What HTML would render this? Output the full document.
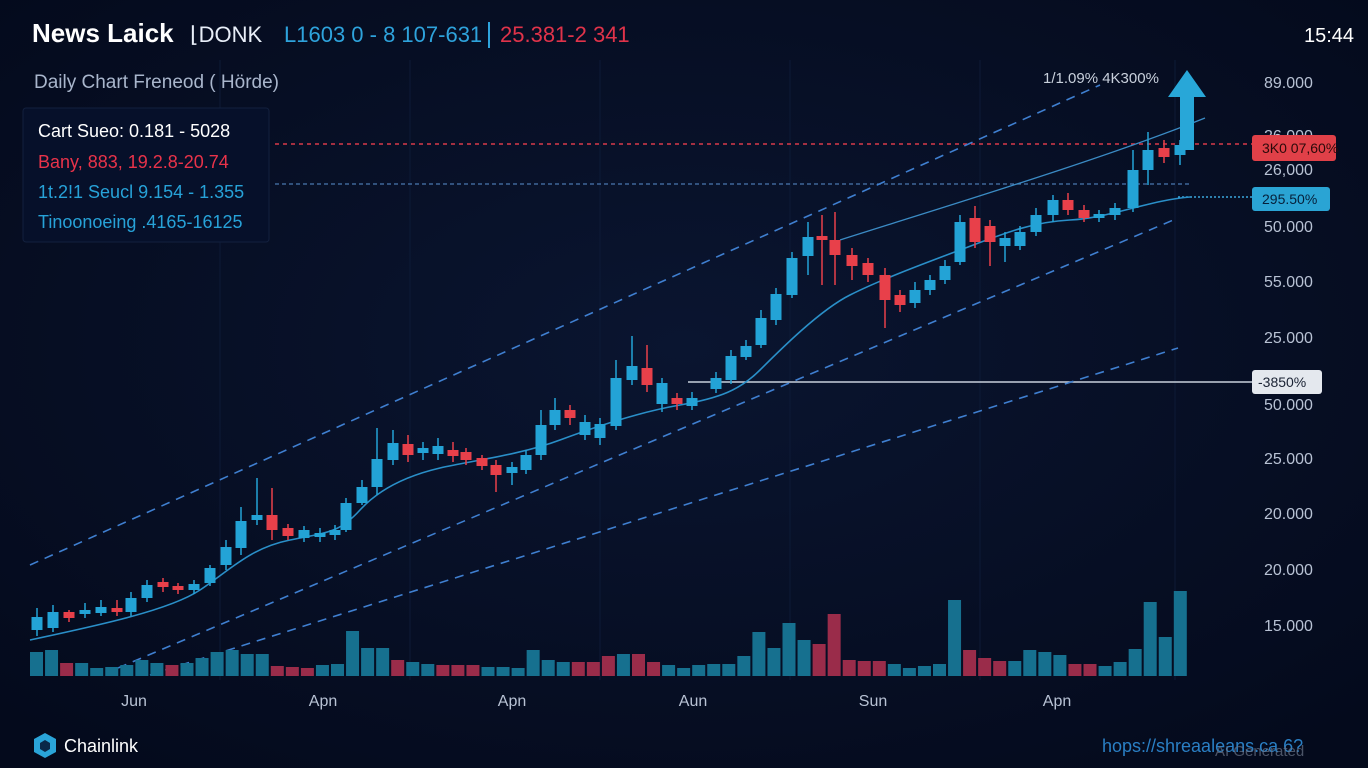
<!DOCTYPE html>
<html><head><meta charset="utf-8"><style>
html,body{margin:0;padding:0;background:#050c20;width:1368px;height:768px;overflow:hidden;font-family:"Liberation Sans",sans-serif}
svg text{font-family:"Liberation Sans",sans-serif}
</style></head><body>
<svg width="1368" height="768" viewBox="0 0 1368 768" xmlns="http://www.w3.org/2000/svg">
<defs><radialGradient id="bg" cx="50%" cy="45%" r="70%"><stop offset="0" stop-color="#0a1530"/><stop offset="1" stop-color="#040a1c"/></radialGradient></defs>
<rect width="1368" height="768" fill="url(#bg)"/>
<g stroke="#0d1a36" stroke-width="1">
<line x1="220" y1="60" x2="220" y2="680"/><line x1="410" y1="60" x2="410" y2="680"/><line x1="600" y1="60" x2="600" y2="680"/><line x1="790" y1="60" x2="790" y2="680"/><line x1="980" y1="60" x2="980" y2="680"/><line x1="1175" y1="60" x2="1175" y2="680"/>
</g>
<text x="32" y="42" fill="#ffffff" font-size="26" font-weight="bold">News Laick</text>
<text x="190" y="42" fill="#e8eef8" font-size="22">⌊DONK</text>
<text x="284" y="42" fill="#2ea3dc" font-size="22">L1603  0 - 8 107-631</text>
<line x1="489" y1="22" x2="489" y2="48" stroke="#2ea3dc" stroke-width="2"/>
<text x="500" y="42" fill="#e0334a" font-size="22">25.381-2 341</text>
<text x="1304" y="42" fill="#ffffff" font-size="20">15:44</text>
<text x="34" y="88" fill="#a9b6cc" font-size="19">Daily Chart  Freneod ( Hörde)</text>
<rect x="23" y="108" width="246" height="134" fill="#06102a" stroke="#13203e" rx="3"/>
<text x="38" y="137" fill="#ffffff" font-size="18">Cart Sueo: 0.181 - 5028</text>
<text x="38" y="168" fill="#e8334a" font-size="18">Bany, 883, 19.2.8-20.74</text>
<text x="38" y="198" fill="#27a2d8" font-size="18">1t.2!1 Seucl  9.154 - 1.355</text>
<text x="38" y="228" fill="#27a2d8" font-size="18">Tinoonoeing .4165-16125</text>
<line x1="275" y1="144" x2="1252" y2="144" stroke="#d83a4a" stroke-width="1.5" stroke-dasharray="4,4"/>
<line x1="275" y1="184" x2="1190" y2="184" stroke="#4a78b0" stroke-width="1.2" stroke-dasharray="4,3"/>
<line x1="1178" y1="197" x2="1252" y2="197" stroke="#3aa6dc" stroke-width="1.5" stroke-dasharray="2,2"/>
<line x1="688" y1="382" x2="1252" y2="382" stroke="#c8d0dc" stroke-width="1.5"/>
<g stroke="#3f7fd0" stroke-width="1.6" stroke-dasharray="9,7" fill="none">
<line x1="30" y1="565" x2="1100" y2="85"/>
<line x1="118" y1="668" x2="1178" y2="218"/>
<line x1="150" y1="675" x2="1178" y2="348"/>
</g>
<path d="M30,640 C100,625 170,610 200,590 S250,548 290,540 S340,532 360,510 S410,475 440,468 S520,455 560,440 S640,412 680,405 S740,390 760,370 S820,310 850,295 S920,265 960,250 S1030,222 1070,220 S1150,200 1190,197" stroke="#2a8fc8" stroke-width="1.6" fill="none"/>
<path d="M840,240 C950,205 1100,160 1205,118" stroke="#3b8bc4" stroke-width="1.3" fill="none"/>
<g id="c"></g>
<g id="v"></g>
<polygon points="1187,70 1168,97 1180,97 1180,150 1194,150 1194,97 1206,97" fill="#28a7d8"/>
<text x="1043" y="83" fill="#c8d0dc" font-size="15">1/1.09% 4K300%</text>
<g fill="#b8c2d4" font-size="16">
<text x="1264" y="88">89.000</text><text x="1264" y="141">26,000</text><text x="1264" y="175">26,000</text>
<text x="1264" y="232">50.000</text><text x="1264" y="287">55.000</text><text x="1264" y="343">25.000</text>
<text x="1264" y="410">50.000</text><text x="1264" y="464">25.000</text><text x="1264" y="519">20.000</text>
<text x="1264" y="575">20.000</text><text x="1264" y="631">15.000</text>
</g>
<rect x="1252" y="135" width="84" height="26" rx="3" fill="#e04048"/><text x="1262" y="153" fill="#2a0a0a" font-size="14">3K0 07,60%</text>
<rect x="1252" y="187" width="78" height="24" rx="3" fill="#2aa4d4"/><text x="1262" y="204" fill="#06203a" font-size="14">295.50%</text>
<rect x="1252" y="370" width="70" height="24" rx="3" fill="#e4e8ee"/><text x="1258" y="387" fill="#1a2233" font-size="14">-3850%</text>
<g fill="#b8c2d4" font-size="16" text-anchor="middle">
<text x="134" y="706">Jun</text><text x="323" y="706">Apn</text><text x="512" y="706">Apn</text><text x="693" y="706">Aun</text><text x="873" y="706">Sun</text><text x="1057" y="706">Apn</text>
</g>
<polygon points="45,733 56,739 56,752 45,758 34,752 34,739" fill="#2aa4d8"/>
<polygon points="45,740 50,743 50,749 45,752 40,749 40,743" fill="#0a2848"/>
<text x="64" y="752" fill="#ffffff" font-size="18">Chainlink</text>
<text x="1102" y="752" fill="#2a7fc4" font-size="18">hops://shreaaleans.ca 6?</text>
<text x="1215" y="756" fill="#6a7488" font-size="15" opacity="0.7">AI Generated</text>
</svg>
<script>
var ns="http://www.w3.org/2000/svg";
var C=[[37,617,630,608,636,'b'],[53,612,628,605,632,'b'],[69,612,618,610,622,'r'],[85,610,614,603,618,'b'],[101,607,613,600,616,'b'],[117,608,612,600,616,'r'],[131,598,612,592,616,'b'],[147,585,598,580,602,'b'],[163,582,587,578,592,'r'],[178,586,590,583,594,'r'],[194,584,590,580,594,'b'],[210,568,583,565,586,'b'],[226,547,565,540,570,'b'],[241,521,548,507,555,'b'],[257,515,520,478,525,'b'],[272,515,530,488,540,'r'],[288,528,536,524,540,'r'],[304,530,538,526,542,'b'],[320,533,537,528,542,'b'],[335,530,535,525,540,'b'],[346,503,530,498,532,'b'],[362,487,503,480,505,'b'],[377,459,487,428,495,'b'],[393,443,460,430,465,'b'],[408,444,455,435,462,'r'],[423,448,453,442,460,'b'],[438,446,454,438,460,'b'],[453,450,456,442,462,'r'],[466,452,460,448,465,'r'],[482,458,466,455,470,'r'],[496,465,475,460,492,'r'],[512,467,473,462,485,'b'],[526,455,470,450,474,'b'],[541,425,455,410,460,'b'],[555,410,425,398,430,'b'],[570,410,418,405,425,'r'],[585,422,435,415,440,'b'],[600,424,438,418,445,'b'],[616,378,426,360,430,'b'],[632,366,380,336,385,'b'],[647,368,385,345,392,'r'],[662,383,404,378,412,'b'],[677,398,404,393,410,'r'],[692,398,406,392,410,'b'],[716,378,389,372,393,'b'],[731,356,380,350,384,'b'],[746,346,357,340,360,'b'],[761,318,345,310,348,'b'],[776,294,320,288,325,'b'],[792,258,295,252,298,'b'],[808,237,256,222,275,'b'],[822,236,240,215,285,'r'],[835,240,255,212,285,'r'],[852,255,266,248,280,'r'],[868,263,275,258,282,'r'],[885,275,300,268,328,'r'],[900,295,305,290,312,'r'],[915,290,303,282,308,'b'],[930,280,290,275,295,'b'],[945,266,280,260,284,'b'],[960,222,262,215,265,'b'],[975,218,242,206,248,'r'],[990,226,242,220,266,'r'],[1005,238,246,232,262,'b'],[1020,232,246,226,250,'b'],[1036,215,232,208,236,'b'],[1053,200,215,195,222,'b'],[1068,200,210,193,215,'r'],[1084,210,218,205,222,'r'],[1099,214,218,210,222,'b'],[1115,208,215,203,220,'b'],[1133,170,208,150,212,'b'],[1148,150,170,132,185,'b'],[1164,148,157,140,163,'r'],[1180,145,155,140,165,'b']];
var g=document.getElementById('c');
C.forEach(function(c){var col=c[5]=='b'?'#23a3d6':'#e8404a';
var l=document.createElementNS(ns,'line');l.setAttribute('x1',c[0]);l.setAttribute('x2',c[0]);l.setAttribute('y1',c[3]);l.setAttribute('y2',c[4]);l.setAttribute('stroke',col);l.setAttribute('stroke-width','1.5');g.appendChild(l);
var r=document.createElementNS(ns,'rect');r.setAttribute('x',c[0]-5.5);r.setAttribute('y',c[1]);r.setAttribute('width',11);r.setAttribute('height',Math.max(3,c[2]-c[1]));r.setAttribute('fill',col);g.appendChild(r);});
var V=[652,650,663,663,668,667,665,660,663,665,663,658,652,650,654,654,666,667,668,665,664,631,648,648,660,662,664,665,665,665,667,667,668,650,660,662,662,662,656,654,654,662,665,668,665,664,664,656,632,648,623,640,644,614,660,661,661,664,668,666,664,600,650,658,661,661,650,652,655,664,664,666,662,649,602,637,591];
var R=[2,9,16,17,18,24,27,28,29,36,37,38,40,41,52,53,54,55,56,62,63,64,69,70];
var vg=document.getElementById('v');
V.forEach(function(t,i){var x=30+i*15.05;var r=document.createElementNS(ns,'rect');r.setAttribute('x',x);r.setAttribute('y',t);r.setAttribute('width',13);r.setAttribute('height',676-t);r.setAttribute('fill',R.indexOf(i)>=0?'#9a2c4a':'#16708f');vg.appendChild(r);});
</script>
</body></html>
